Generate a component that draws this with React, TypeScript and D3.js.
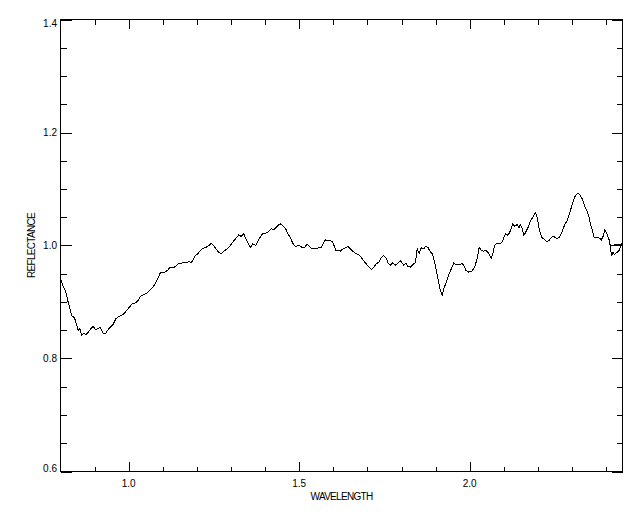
import React from "react";
import * as d3 from "d3";

const wavelength = [
  0.802, 0.809, 0.815, 0.821, 0.828, 0.833, 0.841, 0.848, 0.852, 0.857, 0.862, 0.869, 0.875, 0.882, 0.889, 0.896,
  0.903, 0.909, 0.916, 0.921, 0.926, 0.933, 0.938, 0.945, 0.955, 0.962, 0.970, 0.979, 0.987, 0.994, 1.001, 1.009,
  1.017, 1.023, 1.028, 1.033, 1.038, 1.046, 1.053, 1.060, 1.066, 1.072, 1.077, 1.082, 1.087, 1.092, 1.099, 1.107,
  1.114, 1.121, 1.131, 1.138, 1.146, 1.155, 1.163, 1.170, 1.177, 1.183, 1.190, 1.195, 1.202, 1.209, 1.216, 1.227,
  1.235, 1.243, 1.249, 1.256, 1.264, 1.271, 1.279, 1.289, 1.298, 1.308, 1.315, 1.323, 1.330, 1.337, 1.342, 1.350,
  1.357, 1.364, 1.372, 1.379, 1.386, 1.393, 1.403, 1.411, 1.418, 1.425, 1.432, 1.440, 1.445, 1.452, 1.460, 1.467,
  1.474, 1.481, 1.489, 1.499, 1.508, 1.516, 1.523, 1.530, 1.538, 1.547, 1.557, 1.565, 1.572, 1.577, 1.585, 1.592,
  1.598, 1.604, 1.608, 1.614, 1.621, 1.628, 1.635, 1.643, 1.650, 1.657, 1.665, 1.674, 1.682, 1.689, 1.696, 1.704,
  1.712, 1.718, 1.726, 1.733, 1.741, 1.748, 1.755, 1.761, 1.767, 1.774, 1.782, 1.790, 1.797, 1.802, 1.806, 1.813,
  1.819, 1.826, 1.833, 1.841, 1.846, 1.852, 1.858, 1.865, 1.872, 1.878, 1.885, 1.891, 1.899, 1.907, 1.914, 1.919,
  1.924, 1.931, 1.938, 1.946, 1.953, 1.960, 1.970, 1.978, 1.982, 1.989, 1.997, 2.007, 2.015, 2.022, 2.028, 2.034,
  2.041, 2.048, 2.056, 2.063, 2.067, 2.073, 2.080, 2.087, 2.095, 2.100, 2.105, 2.110, 2.116, 2.122, 2.126, 2.132,
  2.139, 2.144, 2.149, 2.154, 2.158, 2.163, 2.171, 2.178, 2.185, 2.193, 2.198, 2.202, 2.207, 2.212, 2.220, 2.227,
  2.234, 2.242, 2.249, 2.256, 2.263, 2.271, 2.279, 2.286, 2.292, 2.300, 2.307, 2.313, 2.318, 2.325, 2.331, 2.337,
  2.344, 2.349, 2.354, 2.359, 2.364, 2.371, 2.378, 2.386, 2.391, 2.396, 2.400, 2.408, 2.412, 2.416, 2.420, 2.425,
  2.432, 2.439, 2.444, 2.452, 2.413,
];

const reflectance = [
  0.938, 0.926, 0.920, 0.903, 0.888, 0.876, 0.872, 0.858, 0.850, 0.853, 0.841, 0.845, 0.842, 0.847, 0.853, 0.857,
  0.851, 0.853, 0.855, 0.850, 0.844, 0.845, 0.850, 0.855, 0.861, 0.870, 0.874, 0.876, 0.880, 0.885, 0.890, 0.896,
  0.898, 0.900, 0.903, 0.909, 0.912, 0.913, 0.916, 0.920, 0.923, 0.927, 0.932, 0.938, 0.944, 0.951, 0.953, 0.953,
  0.956, 0.961, 0.961, 0.963, 0.968, 0.969, 0.970, 0.969, 0.972, 0.969, 0.976, 0.982, 0.985, 0.990, 0.994, 0.997,
  1.000, 1.004, 1.000, 0.994, 0.988, 0.985, 0.990, 0.994, 1.000, 1.008, 1.013, 1.019, 1.016, 1.021, 1.014, 1.004,
  0.997, 1.003, 1.000, 1.008, 1.015, 1.021, 1.022, 1.025, 1.030, 1.028, 1.032, 1.037, 1.038, 1.035, 1.030, 1.021,
  1.014, 1.004, 0.998, 1.000, 0.997, 0.997, 1.002, 0.998, 0.994, 0.994, 0.996, 0.997, 1.006, 1.010, 1.008, 1.008,
  1.006, 0.997, 0.990, 0.992, 0.990, 0.994, 0.996, 0.998, 0.994, 0.990, 0.986, 0.984, 0.979, 0.973, 0.968, 0.962,
  0.958, 0.961, 0.968, 0.970, 0.979, 0.982, 0.978, 0.968, 0.965, 0.969, 0.965, 0.969, 0.973, 0.969, 0.965, 0.969,
  0.963, 0.962, 0.966, 0.970, 0.994, 0.986, 0.996, 0.994, 0.999, 0.996, 0.988, 0.985, 0.965, 0.941, 0.920, 0.912,
  0.923, 0.935, 0.947, 0.959, 0.969, 0.966, 0.966, 0.968, 0.965, 0.956, 0.953, 0.955, 0.962, 0.978, 0.997, 0.991,
  0.990, 0.991, 0.986, 0.978, 0.984, 1.000, 1.004, 1.003, 1.006, 1.014, 1.021, 1.018, 1.022, 1.030, 1.038, 1.034,
  1.037, 1.031, 1.037, 1.030, 1.018, 1.022, 1.032, 1.043, 1.050, 1.058, 1.049, 1.035, 1.021, 1.014, 1.010, 1.006,
  1.010, 1.016, 1.015, 1.012, 1.015, 1.024, 1.038, 1.044, 1.056, 1.071, 1.085, 1.090, 1.093, 1.088, 1.081, 1.069,
  1.061, 1.053, 1.038, 1.028, 1.015, 1.014, 1.014, 1.010, 1.016, 1.027, 1.024, 1.012, 1.000, 0.981, 0.988, 0.984,
  0.988, 0.992, 1.004, 1.003, 1.000,
];

const xDomain = [0.8, 2.448];
const yDomain = [0.6, 1.4];
const xMajorTicks = [1.0, 1.5, 2.0];
const xMinorTicks = [0.9, 1.1, 1.2, 1.3, 1.4, 1.6, 1.7, 1.8, 1.9, 2.1, 2.2, 2.3, 2.4];
const yMajorTicks = [0.6, 0.8, 1.0, 1.2, 1.4];
const yMinorTicks = [0.65, 0.7, 0.75, 0.85, 0.9, 0.95, 1.05, 1.1, 1.15, 1.25, 1.3, 1.35];
const xTitle = "WAVELENGTH";
const yTitle = "REFLECTANCE";

export default function App() {
  const W = 640, H = 512;
  const L = 60.5, R = 622.5, T = 19.5, B = 471.5;
  const x = d3.scaleLinear().domain(xDomain).range([L, R]);
  const y = d3.scaleLinear().domain(yDomain).range([B, T]);
  const pts = wavelength.map((w, i) => [w, reflectance[i]] as [number, number]);
  const line = d3.line<[number, number]>().x((d) => x(d[0])).y((d) => y(d[1]));
  const font = "'Liberation Sans', Arial, Helvetica, sans-serif";
  const fmt = d3.format(".1f");
  const sk = { stroke: "#000", strokeWidth: 1 };
  return (
    <svg width={W} height={H} style={{ position: "absolute", left: 0, top: 0, background: "#fff" }}
      fontFamily={font}>
      <rect x={0} y={0} width={W} height={H} fill="#fff" />
      <defs>
        <clipPath id="plotclip">
          <rect x={L} y={T} width={R - L} height={B - T} />
        </clipPath>
      </defs>
      <path d={line(pts) || ""} fill="none" stroke="#000" strokeWidth={1} clipPath="url(#plotclip)"
        shapeRendering="crispEdges" />
      <rect x={L} y={T} width={R - L} height={B - T} fill="none" {...sk} shapeRendering="crispEdges" />
      <g shapeRendering="crispEdges">
        {xMajorTicks.map((t) => (
          <g key={"xM" + t}>
            <line x1={Math.round(x(t)) + 0.5} x2={Math.round(x(t)) + 0.5} y1={B} y2={B - 9.5} {...sk} />
            <line x1={Math.round(x(t)) + 0.5} x2={Math.round(x(t)) + 0.5} y1={T} y2={T + 9.5} {...sk} />
          </g>
        ))}
        {xMinorTicks.map((t) => (
          <g key={"xm" + t}>
            <line x1={Math.round(x(t)) + 0.5} x2={Math.round(x(t)) + 0.5} y1={B} y2={B - 5} {...sk} />
            <line x1={Math.round(x(t)) + 0.5} x2={Math.round(x(t)) + 0.5} y1={T} y2={T + 5} {...sk} />
          </g>
        ))}
        {yMajorTicks.map((t) => (
          <g key={"yM" + t}>
            <line x1={L} x2={L + 11} y1={Math.round(y(t)) + 0.5} y2={Math.round(y(t)) + 0.5} {...sk} />
            <line x1={R} x2={R - 11} y1={Math.round(y(t)) + 0.5} y2={Math.round(y(t)) + 0.5} {...sk} />
          </g>
        ))}
        {yMinorTicks.map((t) => (
          <g key={"ym" + t}>
            <line x1={L} x2={L + 6} y1={Math.round(y(t)) + 0.5} y2={Math.round(y(t)) + 0.5} {...sk} />
            <line x1={R} x2={R - 6} y1={Math.round(y(t)) + 0.5} y2={Math.round(y(t)) + 0.5} {...sk} />
          </g>
        ))}
      </g>
      {xMajorTicks.map((t) => (
        <text key={"xl" + t} x={x(t)} y={487} fontSize={10} textAnchor="middle" fill="#000">
          {fmt(t)}
        </text>
      ))}
      {yMajorTicks.map((t) => {
        const by = Math.min(Math.max(y(t) + 3.5, T + 7.5), B);
        return (
          <text key={"yl" + t} x={57} y={by} fontSize={10} textAnchor="end" fill="#000">
            {fmt(t)}
          </text>
        );
      })}
      <text x={(L + R) / 2} y={500} fontSize={10} textAnchor="middle" letterSpacing={-0.7} fill="#000">
        {xTitle}
      </text>
      <text transform={`translate(35,${(T + B) / 2}) rotate(-90)`} fontSize={10} textAnchor="middle"
        letterSpacing={-0.7} fill="#000">
        {yTitle}
      </text>
    </svg>
  );
}
